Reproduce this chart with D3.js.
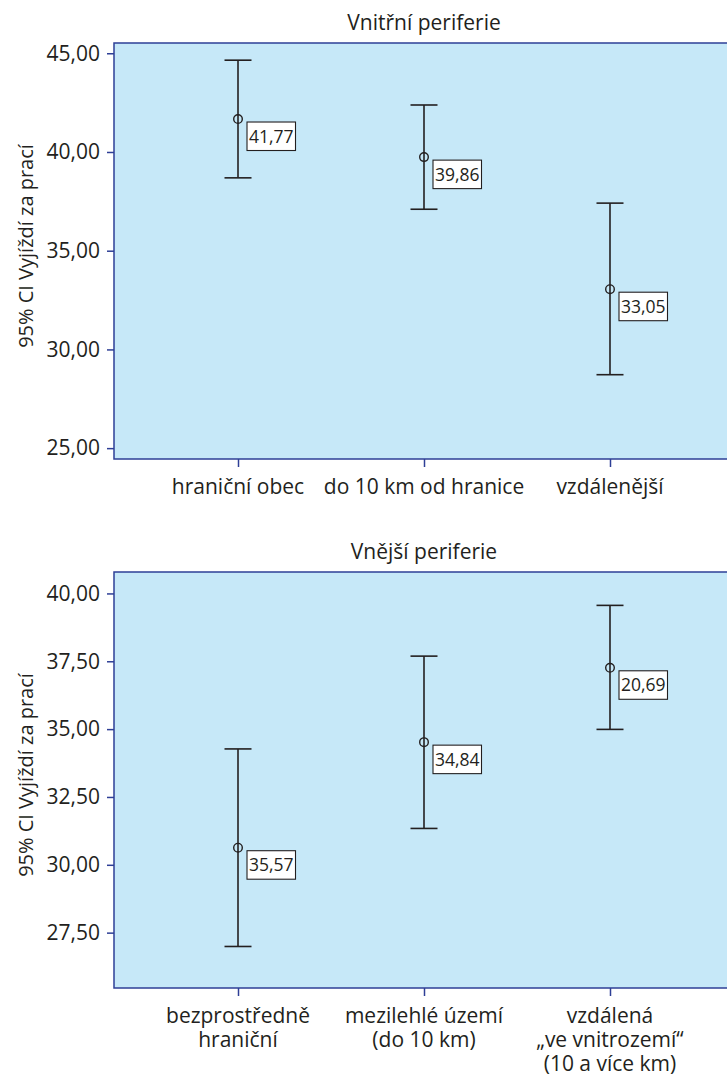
<!DOCTYPE html>
<html><head><meta charset="utf-8">
<script src="https://cdn.jsdelivr.net/npm/d3@7"></script>
<style>
html,body{margin:0;padding:0;background:#fff;overflow:hidden;}
svg{display:block;font-family:"Open Sans",sans-serif;}
</style></head>
<body>
<script>
// ---------- data ----------
const titleTop = "Vnitřní periferie";
const categoriesTop = [["hraniční obec"], ["do 10 km od hranice"], ["vzdálenější"]];
const meanTop = [41.67, 39.74, 33.05];
const lowTop = [38.69, 37.10, 28.72];
const highTop = [44.65, 42.38, 37.41];
const labelsTop = ["41,77", "39,86", "33,05"];
const ticksTop = [25, 30, 35, 40, 45];
const domainTop = [24.45, 45.52];

const titleBottom = "Vnější periferie";
const categoriesBottom = [["bezprostředně", "hraniční"], ["mezilehlé území", "(do 10 km)"], ["vzdálená", "„ve vnitrozemí“", "(10 a více km)"]];
const meanBottom = [30.63, 34.52, 37.26];
const lowBottom = [26.99, 31.34, 34.99];
const highBottom = [34.27, 37.69, 39.56];
const labelsBottom = ["35,57", "34,84", "20,69"];
const ticksBottom = [27.5, 30, 32.5, 35, 37.5, 40];
const domainBottom = [25.46, 40.79];

const yTitle = "95% CI Vyjíždí za prací";

// ---------- drawing ----------
const W = 727, H = 1079;
const svg = d3.select("body").append("svg").attr("width", W).attr("height", H);
const fmt = v => d3.format(".2f")(v).replace(".", ",");
const AXIS = "#2e3f96", FILL = "#c6e8f8", INK = "#231f20";

function panel(cfg) {
  const g = svg.append("g");
  const x = d3.scalePoint().domain(cfg.cats.map((d, i) => i)).range([cfg.left, cfg.right]).padding(0.6667);
  const y = d3.scaleLinear().domain(cfg.domain).range([cfg.bottom, cfg.top]);

  g.append("rect").attr("x", cfg.left).attr("y", cfg.top)
    .attr("width", cfg.right - cfg.left).attr("height", cfg.bottom - cfg.top)
    .attr("fill", FILL).attr("stroke", AXIS).attr("stroke-width", 1.5);

  // y axis
  const ya = g.append("g").attr("transform", `translate(${cfg.left},0)`)
    .call(d3.axisLeft(y).tickValues(cfg.ticks).tickFormat(fmt).tickSize(7).tickPadding(7));
  ya.select(".domain").remove();
  ya.selectAll("line").attr("stroke", AXIS).attr("stroke-width", 1.5);
  ya.selectAll("text").attr("font-size", 21).attr("fill", INK).attr("font-family", "Open Sans");

  // x axis
  const xa = g.append("g").attr("transform", `translate(0,${cfg.bottom})`)
    .call(d3.axisBottom(x).tickFormat("").tickSize(8));
  xa.select(".domain").remove();
  xa.selectAll("line").attr("stroke", AXIS).attr("stroke-width", 1.5);

  cfg.cats.forEach((lines, i) => {
    lines.forEach((ln, j) => {
      g.append("text").attr("text-anchor", "middle").attr("font-size", 21).attr("fill", INK)
        .attr("x", x(i)).attr("y", cfg.bottom + 35 + j * 24).text(ln);
    });
  });

  // title
  g.append("text").attr("x", (cfg.left + cfg.right) / 2).attr("y", cfg.top - 13)
    .attr("text-anchor", "middle").attr("font-size", 21).attr("fill", INK).text(cfg.title);

  // y title
  g.append("text").attr("transform", `translate(33,${(cfg.top + cfg.bottom) / 2 - 5}) rotate(-90)`)
    .attr("text-anchor", "middle").attr("font-size", 20).attr("fill", INK).text(yTitle);

  // error bars
  const cap = 13.5;
  cfg.mean.forEach((m, i) => {
    const cx = x(i);
    g.append("line").attr("x1", cx).attr("x2", cx).attr("y1", y(cfg.high[i])).attr("y2", y(cfg.low[i]))
      .attr("stroke", INK).attr("stroke-width", 1.6);
    [cfg.high[i], cfg.low[i]].forEach(v => {
      g.append("line").attr("x1", cx - cap).attr("x2", cx + cap).attr("y1", y(v)).attr("y2", y(v))
        .attr("stroke", INK).attr("stroke-width", 1.6);
    });
    const cy = y(m);
    g.append("circle").attr("cx", cx).attr("cy", cy).attr("r", 4.3)
      .attr("fill", "none").attr("stroke", INK).attr("stroke-width", 1.4);
    const bx = cx + 9, by = cy + 3, bw = 48.5, bh = 28.5;
    g.append("rect").attr("x", bx).attr("y", by).attr("width", bw).attr("height", bh)
      .attr("fill", "#fff").attr("stroke", INK).attr("stroke-width", 1.1);
    g.append("text").attr("x", bx + bw / 2).attr("y", by + bh / 2).attr("dy", "0.36em")
      .attr("text-anchor", "middle").attr("font-size", 17.5).attr("fill", INK).text(cfg.labels[i]);
  });
}

panel({title: titleTop, cats: categoriesTop, mean: meanTop, low: lowTop, high: highTop,
  labels: labelsTop, ticks: ticksTop, domain: domainTop, left: 114, right: 734, top: 43, bottom: 459});
panel({title: titleBottom, cats: categoriesBottom, mean: meanBottom, low: lowBottom, high: highBottom,
  labels: labelsBottom, ticks: ticksBottom, domain: domainBottom, left: 114, right: 734, top: 572, bottom: 988});
</script>
</body></html>
